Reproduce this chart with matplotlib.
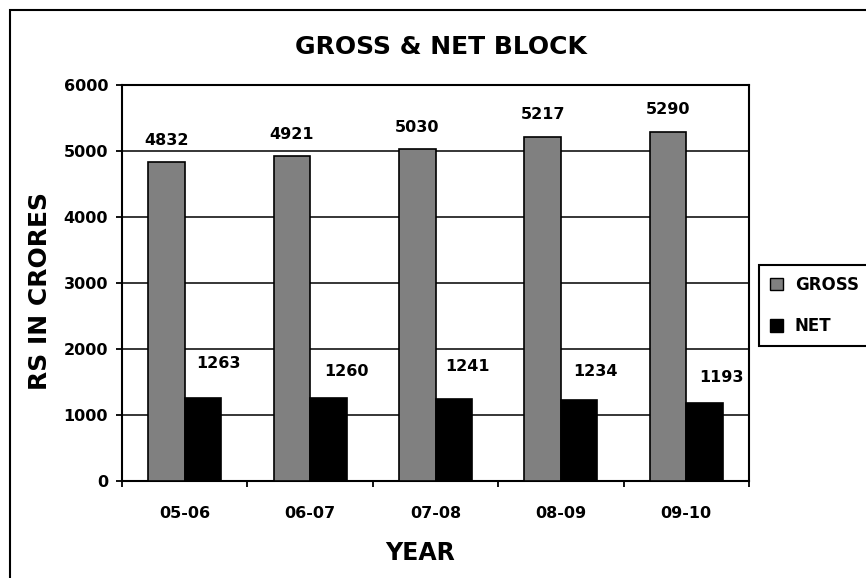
import numpy as np
import matplotlib.pyplot as plt
from matplotlib.patches import Patch, Rectangle

plt.rcParams['font.family'] = ['DejaVu Sans']
plt.rcParams['font.weight'] = 'bold'

years = ['05-06', '06-07', '07-08', '08-09', '09-10']
gross = [4832, 4921, 5030, 5217, 5290]
net = [1263, 1260, 1241, 1234, 1193]

# hand-placed value labels for the NET bars (pixel offsets from bar top)
net_label_dx = [15, 18, 14, 16, 17]
net_label_dy = [35, 27, 33, 28, 25]

fig = plt.figure(figsize=(8.66, 5.78), dpi=100)
ax = fig.add_axes([0.1409, 0.1670, 0.7240, 0.6859])

x = np.arange(len(years))
w = 0.291
b1 = ax.bar(x - w / 2, gross, w, color='#808080', edgecolor='black', linewidth=1.2, zorder=3)
b2 = ax.bar(x + w / 2, net, w, color='black', edgecolor='black', linewidth=1.2, zorder=3)

for xi, v in zip(x, gross):
    ax.annotate(f'{v}', (xi - w / 2, v), xytext=(0, 22), textcoords='offset pixels',
                ha='center', va='center', fontsize=11.5, fontweight='bold')
for xi, v, dx, dy in zip(x, net, net_label_dx, net_label_dy):
    ax.annotate(f'{v}', (xi + w / 2, v), xytext=(dx, dy), textcoords='offset pixels',
                ha='center', va='center', fontsize=11.5, fontweight='bold')

ax.set_xlim(-0.5, len(years) - 0.5)
ax.set_ylim(0, 6000)
ax.set_yticks(range(0, 6001, 1000))
ax.yaxis.grid(True, color='black', linewidth=1.1, zorder=0)
ax.set_axisbelow(True)

# ticks between categories, labels centred under each category
ax.set_xticks(np.arange(-0.5, len(years), 1.0))
ax.set_xticklabels([])
ax.set_xticks(x, minor=True)
ax.set_xticklabels(years, minor=True, fontsize=11.5, fontweight='bold')
ax.tick_params(axis='x', which='major', direction='out', length=4.5, width=1.3)
ax.tick_params(axis='x', which='minor', length=0, pad=18)
ax.tick_params(axis='y', direction='out', length=4.5, width=1.3, pad=5.5, labelsize=11.5)
for lab in ax.get_yticklabels():
    lab.set_fontweight('bold')

for s in ax.spines.values():
    s.set_linewidth(1.5)
    s.set_color('black')

fig.text(0.509, 0.9187, 'GROSS & NET BLOCK', ha='center', va='center', fontsize=18, fontweight='bold')
fig.text(0.046, 0.4965, 'RS IN CRORES', ha='center', va='center', rotation=90, fontsize=18, fontweight='bold')
fig.text(0.485, 0.0433, 'YEAR', ha='center', va='center', fontsize=17, fontweight='bold')

handles = [Patch(facecolor='#808080', edgecolor='black', linewidth=1),
           Patch(facecolor='black', edgecolor='black', linewidth=1)]
leg = fig.legend(handles, ['GROSS', 'NET'], loc='upper left', bbox_to_anchor=(759 / 866, 1 - 265 / 578),
                 bbox_transform=fig.transFigure, borderaxespad=0, fancybox=False, framealpha=1,
                 edgecolor='black', fontsize=12, handlelength=0.8, handleheight=0.8,
                 handletextpad=0.7, labelspacing=1.4, borderpad=0.65)
leg.get_frame().set_linewidth(1.5)
for t in leg.get_texts():
    t.set_fontweight('bold')

# outer chart frame
fig.add_artist(Rectangle((10 / 866, -0.1), 2, 1.1 - 9.5 / 578, transform=fig.transFigure,
                         fill=False, edgecolor='black', linewidth=1.5))

fig.savefig('out.png', dpi=100)
